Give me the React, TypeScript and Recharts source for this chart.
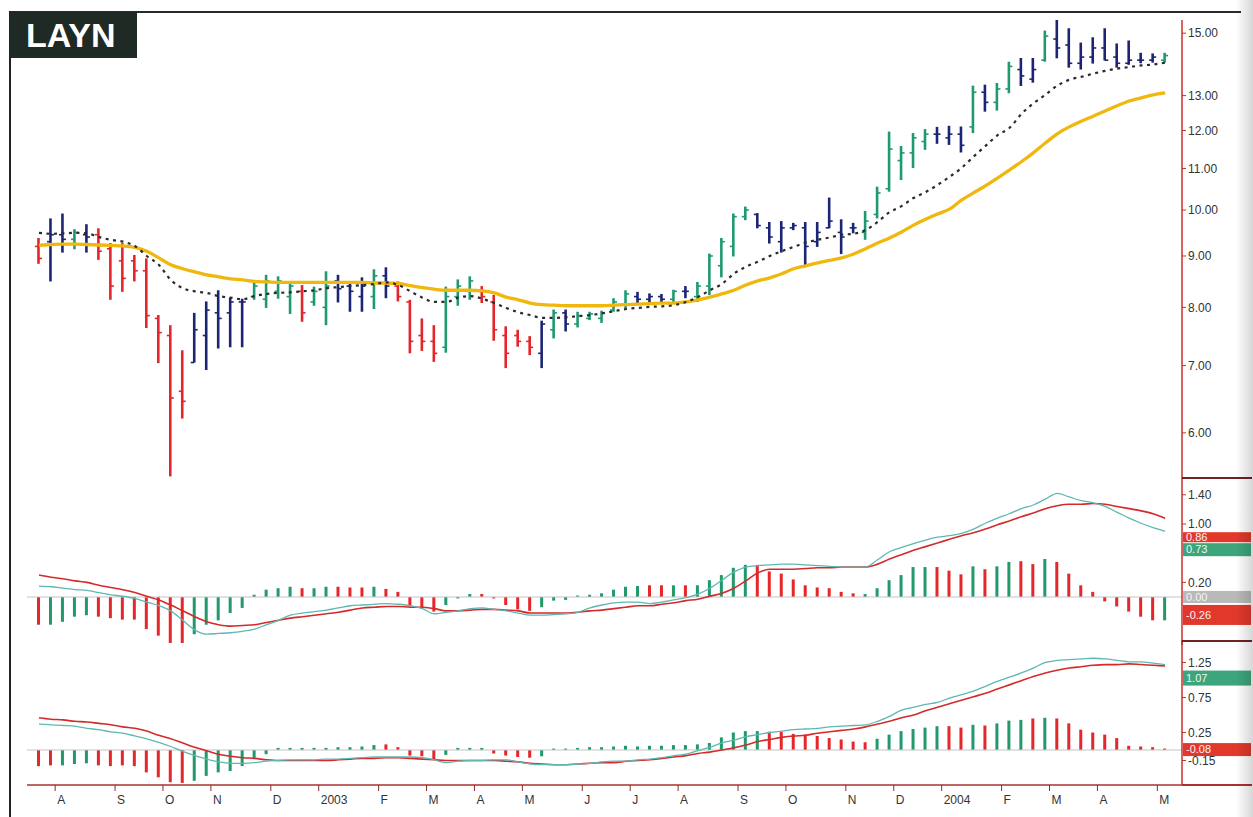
import React from 'react';
import { ComposedChart, Bar, Line, XAxis, YAxis, Cell, ReferenceLine } from 'recharts';

// ---------- data (weekly bars, Jul 2002 - May 2004) ----------
const weekIndex: number[] = Array.from({ length: 95 }, (_, k) => k);

const highs = [9.38,9.81,9.92,9.57,9.68,9.59,9.27,9.27,9.02,8.95, 7.86,7.68,7.25,7.90,8.11,8.32,8.18,8.16,8.46,8.62, 8.59,8.46,8.42,8.39,8.69,8.62,8.49,8.57,8.73,8.77, 8.49,8.14,7.80,7.68,8.39,8.53,8.59,8.40,8.23,7.66, 7.60,7.49,7.76,7.96,7.96,7.92,7.92,7.94,8.17,8.32, 8.29,8.26,8.25,8.33,8.40,8.48,9.05,9.38,9.92,10.08, 9.93,9.73,9.75,9.71,9.73,9.73,10.29,9.79,9.71,9.98, 10.55,11.97,11.58,11.93,12.04,12.10,12.13,12.11,13.30,13.33, 13.38,14.05,14.17,14.17,15.09,15.57,15.17,14.68,14.86,15.17, 14.65,14.75,14.34,14.32,14.34];
const lows = [8.84,8.49,9.07,9.14,9.07,8.92,8.14,8.29,8.49,7.63, 7.04,5.43,6.20,7.05,6.93,7.28,7.30,7.30,8.14,7.99, 8.16,7.88,7.74,8.03,7.68,8.09,7.92,7.92,7.97,8.17, 8.11,7.20,7.24,7.06,7.21,8.03,8.14,8.08,7.41,6.96, 7.31,7.17,6.96,7.45,7.57,7.64,7.77,7.72,7.92,7.98, 8.07,8.09,8.09,8.09,8.17,8.10,8.23,8.57,8.99,9.77, 9.59,9.26,9.07,9.55,8.79,9.19,9.59,9.04,9.48,9.34, 9.81,10.43,10.71,11.01,11.48,11.64,11.61,11.41,11.93,12.53, 12.56,13.07,13.29,13.39,14.05,14.16,13.86,13.80,13.99,14.09, 13.86,13.95,14.00,14.02,14.02];
const opens = [9.20,9.30,9.45,9.35,9.45,9.45,9.15,8.90,8.90,8.70, 7.80,7.50,6.60,7.05,7.50,7.90,7.90,8.10,8.20,8.15, 8.30,8.20,8.30,8.10,8.00,8.50,8.40,8.20,8.20,8.60, 8.40,8.10,7.50,7.40,7.30,8.20,8.30,8.30,8.10,7.50, 7.50,7.40,7.20,7.60,7.90,7.70,7.80,7.80,7.95,8.05, 8.20,8.15,8.20,8.15,8.30,8.20,8.40,8.80,9.20,9.85, 9.90,9.60,9.30,9.60,9.60,9.30,9.60,9.50,9.60,9.50, 9.90,10.50,11.20,11.40,11.70,11.90,11.80,11.90,12.10,13.10, 12.80,13.20,13.80,13.50,14.10,14.80,14.60,14.00,14.20,14.50, 14.20,14.00,14.10,14.10,14.10];
const closes = [8.95,9.45,9.35,9.50,9.40,9.10,8.40,8.55,8.70,7.85, 7.55,6.50,6.45,7.60,7.95,7.80,8.10,8.10,8.40,8.50, 8.50,8.40,7.90,8.30,8.40,8.35,8.30,8.40,8.60,8.40, 8.20,7.40,7.40,7.20,8.20,8.40,8.50,8.20,7.60,7.20, 7.40,7.30,7.70,7.90,7.70,7.85,7.88,7.90,8.10,8.25, 8.15,8.20,8.15,8.30,8.30,8.40,9.00,9.30,9.85,10.00, 9.65,9.40,9.60,9.65,9.20,9.50,9.75,9.40,9.60,9.75, 10.40,11.50,11.40,11.80,11.90,11.90,11.90,11.60,13.10,12.80, 13.20,13.90,13.60,13.80,14.90,14.50,14.00,14.20,14.50,14.10, 14.00,14.10,14.10,14.20,14.25];
// bar colour codes: R = red, G = green, B = blue
const barCodes = ('RBBGBRRRRR' + 'RRRBBBBBGG' + 'GGRGGBBBGB' + 'RRRRGGGRRR' + 'RRBGBGGGGG' + 'BBBGBGGGGG' + 'BBBBBBBBBG' + 'GGGGGBBBGB' + 'GGBBGBBBBB' + 'BBBBG').split('');

const ema26 = [9.22,9.24,9.25,9.25,9.24,9.23,9.22,9.21,9.18,9.10, 8.96,8.82,8.74,8.68,8.62,8.58,8.54,8.52,8.49,8.48, 8.47,8.47,8.47,8.47,8.47,8.47,8.47,8.47,8.46,8.46, 8.45,8.41,8.37,8.34,8.32,8.32,8.32,8.31,8.27,8.19, 8.14,8.08,8.05,8.04,8.03,8.03,8.03,8.03,8.04,8.05, 8.06,8.07,8.08,8.08,8.10,8.14,8.19,8.25,8.32,8.42, 8.50,8.56,8.64,8.74,8.80,8.86,8.91,8.96,9.04,9.15, 9.27,9.38,9.51,9.66,9.79,9.91,10.02,10.23,10.40,10.57, 10.76,10.96,11.17,11.40,11.66,11.91,12.10,12.26,12.40,12.55, 12.70,12.84,12.93,13.02,13.08];
const ema13 = [9.49,9.47,9.48,9.49,9.48,9.40,9.34,9.30,9.21,9.00, 8.82,8.52,8.36,8.30,8.27,8.21,8.18,8.15,8.21,8.25, 8.27,8.28,8.30,8.32,8.36,8.38,8.40,8.42,8.44,8.47, 8.42,8.30,8.18,8.10,8.10,8.18,8.21,8.16,8.08,7.99, 7.91,7.86,7.81,7.81,7.82,7.84,7.86,7.89,7.93,7.97, 7.99,8.01,8.02,8.04,8.10,8.19,8.32,8.44,8.64,8.78, 8.88,9.00,9.10,9.19,9.28,9.34,9.39,9.45,9.47,9.55, 9.73,9.95,10.09,10.28,10.42,10.59,10.79,11.01,11.30,11.58, 11.87,12.07,12.46,12.77,13.02,13.30,13.48,13.57,13.67,13.76, 13.83,13.88,13.93,13.96,14.02];

// MACD panel 1
const hist1 = [-0.38,-0.38,-0.34,-0.27,-0.25,-0.27,-0.29,-0.31,-0.31,-0.44, -0.53,-0.63,-0.63,-0.51,-0.38,-0.32,-0.22,-0.15,0.03,0.10, 0.12,0.14,0.12,0.12,0.14,0.14,0.13,0.13,0.14,0.11, 0.07,-0.13,-0.15,-0.20,-0.11,-0.02,0.04,0.04,-0.02,-0.11, -0.17,-0.19,-0.14,-0.05,-0.04,0.02,0.03,0.05,0.10,0.14, 0.15,0.16,0.16,0.16,0.16,0.16,0.23,0.30,0.40,0.44, 0.44,0.35,0.32,0.24,0.16,0.13,0.12,0.07,0.05,0.04, 0.12,0.23,0.30,0.41,0.41,0.41,0.36,0.31,0.42,0.38, 0.42,0.48,0.49,0.45,0.52,0.48,0.32,0.16,0.07,-0.06, -0.13,-0.20,-0.27,-0.32,-0.32];
const hist1Codes = ('RGGGGRRRRR' + 'RRRGGGGGGG' + 'GGRGGRRRGR' + 'RRRRGGGRRR' + 'RRGGGGGGGG' + 'GRRGRGGGGG' + 'RRRRRRRRRG' + 'GGGGGRRRGR' + 'GGRRGRRRRR' + 'RRRRG').split('');
const macd1Red = [0.30,0.27,0.25,0.22,0.20,0.16,0.13,0.10,0.06,0.01, -0.04,-0.11,-0.19,-0.27,-0.34,-0.38,-0.40,-0.39,-0.38,-0.35, -0.32,-0.29,-0.27,-0.25,-0.23,-0.21,-0.18,-0.15,-0.14,-0.13, -0.13,-0.14,-0.14,-0.16,-0.19,-0.19,-0.18,-0.17,-0.17,-0.18, -0.19,-0.22,-0.22,-0.22,-0.22,-0.21,-0.19,-0.18,-0.16,-0.14, -0.12,-0.12,-0.10,-0.08,-0.05,-0.03,0.01,0.05,0.12,0.22, 0.33,0.38,0.38,0.38,0.39,0.40,0.40,0.41,0.41,0.41, 0.45,0.52,0.58,0.64,0.69,0.74,0.79,0.84,0.88,0.93, 0.99,1.04,1.10,1.15,1.21,1.25,1.27,1.27,1.28,1.27, 1.24,1.21,1.18,1.14,1.08];
const macd1Teal = [0.15,0.14,0.12,0.10,0.09,0.06,0.03,0.01,-0.02,-0.07, -0.12,-0.19,-0.32,-0.45,-0.51,-0.50,-0.49,-0.47,-0.44,-0.38, -0.32,-0.25,-0.22,-0.20,-0.18,-0.15,-0.12,-0.11,-0.10,-0.09, -0.10,-0.12,-0.16,-0.23,-0.21,-0.19,-0.16,-0.15,-0.17,-0.19, -0.22,-0.25,-0.25,-0.24,-0.23,-0.21,-0.15,-0.11,-0.08,-0.07, -0.07,-0.09,-0.07,-0.04,-0.01,0.04,0.12,0.23,0.34,0.41, 0.43,0.44,0.45,0.45,0.44,0.43,0.42,0.41,0.41,0.41, 0.51,0.62,0.68,0.73,0.78,0.82,0.84,0.87,0.93,1.01, 1.08,1.14,1.21,1.26,1.34,1.42,1.37,1.32,1.29,1.24, 1.16,1.08,1.01,0.95,0.90];

// MACD panel 2
const hist2 = [-0.23,-0.22,-0.22,-0.20,-0.19,-0.22,-0.23,-0.22,-0.23,-0.32, -0.39,-0.46,-0.47,-0.44,-0.37,-0.32,-0.30,-0.23,-0.12,-0.06, 0.03,0.03,0.03,0.03,0.03,0.04,0.04,0.05,0.07,0.08, 0.04,-0.08,-0.09,-0.13,-0.07,0.03,0.03,0.03,-0.05,-0.08, -0.10,-0.11,-0.09,0.02,0.02,0.03,0.04,0.04,0.05,0.06, 0.05,0.06,0.06,0.07,0.07,0.08,0.10,0.18,0.25,0.27, 0.27,0.26,0.26,0.23,0.22,0.20,0.17,0.15,0.12,0.11, 0.16,0.22,0.27,0.30,0.32,0.34,0.34,0.32,0.36,0.35, 0.38,0.42,0.43,0.45,0.46,0.45,0.38,0.29,0.25,0.22, 0.17,0.06,0.05,0.04,0.02];
const hist2Codes = ('RRGGGRRRRR' + 'RRRGGGGGGG' + 'GGGGGGGGGR' + 'RRRRGGGGRR' + 'RRGGGGGGGG' + 'GGGGGGGGGG' + 'GRRRRRRRRR' + 'GGGGGGRRGR' + 'GGGRGRRRRR' + 'RRRRR').split('');
const macd2Red = [0.46,0.44,0.43,0.41,0.40,0.38,0.36,0.33,0.31,0.27, 0.21,0.16,0.10,0.04,-0.01,-0.06,-0.09,-0.11,-0.12,-0.14, -0.15,-0.15,-0.15,-0.15,-0.15,-0.14,-0.13,-0.12,-0.12,-0.11, -0.11,-0.12,-0.13,-0.14,-0.15,-0.15,-0.15,-0.15,-0.15,-0.16, -0.17,-0.19,-0.20,-0.21,-0.21,-0.20,-0.19,-0.18,-0.18,-0.16, -0.15,-0.14,-0.12,-0.10,-0.08,-0.05,-0.03,0.00,0.03,0.07, 0.12,0.15,0.18,0.20,0.21,0.24,0.26,0.28,0.30,0.33, 0.37,0.41,0.46,0.50,0.56,0.61,0.66,0.71,0.76,0.81, 0.87,0.93,0.99,1.05,1.10,1.14,1.17,1.19,1.21,1.22, 1.22,1.23,1.22,1.21,1.20];
const macd2Teal = [0.37,0.36,0.35,0.34,0.31,0.29,0.26,0.24,0.20,0.16, 0.11,0.05,-0.02,-0.08,-0.13,-0.17,-0.19,-0.19,-0.18,-0.16, -0.15,-0.14,-0.14,-0.14,-0.13,-0.13,-0.12,-0.11,-0.10,-0.10, -0.10,-0.10,-0.11,-0.14,-0.18,-0.16,-0.15,-0.15,-0.14,-0.14, -0.17,-0.20,-0.21,-0.21,-0.21,-0.20,-0.19,-0.17,-0.16,-0.16, -0.14,-0.13,-0.11,-0.08,-0.06,-0.01,0.04,0.10,0.14,0.19, 0.22,0.25,0.27,0.29,0.30,0.31,0.33,0.34,0.35,0.36, 0.41,0.48,0.57,0.61,0.65,0.68,0.74,0.79,0.84,0.91, 0.98,1.04,1.10,1.17,1.25,1.28,1.29,1.30,1.31,1.30, 1.28,1.26,1.26,1.24,1.22];

// axis ticks
const monthWeeks = [1, 6, 10, 14, 19, 23, 28, 32, 36, 40, 45, 49, 53, 58, 62, 67, 71, 75, 80, 84, 88, 93];
const monthLabels = ['A', 'S', 'O', 'N', 'D', '2003', 'F', 'M', 'A', 'M', 'J', 'J', 'A', 'S', 'O', 'N', 'D', '2004', 'F', 'M', 'A', 'M'];
const priceTicks = [6, 7, 8, 9, 10, 11, 12, 13, 15];
const macd1Ticks = [1.4, 1.0, 0.2];
const macd2Ticks = [1.25, 0.75, 0.25, -0.15];

// ---------- styling ----------
const BAR_COLORS: Record<string, string> = { R: '#e4252b', G: '#1f9a70', B: '#1c2474' };
const HIST_COLORS: Record<string, string> = { R: '#e5262a', G: '#22996b' };
const AXIS_RED = '#c8302c';
const FONT = '"Liberation Sans", Arial, sans-serif';
const X_DOMAIN: [number, number] = [-1, 95.41];
const W = 1253;
const MARGIN_LEFT = 27;
const AXIS_W = 71;

const rows = weekIndex.map((w, k) => ({
  i: w,
  open: opens[k],
  high: highs[k],
  low: lows[k],
  close: closes[k],
  color: BAR_COLORS[barCodes[k]],
  ema13: ema13[k],
  ema26: ema26[k],
  h1: hist1[k],
  h1c: HIST_COLORS[hist1Codes[k]],
  m1r: macd1Red[k],
  m1t: macd1Teal[k],
  h2: hist2[k],
  h2c: HIST_COLORS[hist2Codes[k]],
  m2r: macd2Red[k],
  m2t: macd2Teal[k],
}));

const OhlcShape = (props: any) => {
  const { x, y, width, height, payload } = props;
  if (x == null || y == null || !payload) return null;
  const cx = x + width / 2;
  const lh = Math.log(payload.high);
  const ll = Math.log(payload.low);
  const span = lh - ll || 1;
  const yo = y + (height * (lh - Math.log(payload.open))) / span;
  const yc = y + (height * (lh - Math.log(payload.close))) / span;
  const c = payload.color;
  return (
    <g>
      <line x1={cx} x2={cx} y1={y} y2={y + height} stroke={c} strokeWidth={2.6} />
      <line x1={cx - 3.5} x2={cx} y1={yo} y2={yo} stroke={c} strokeWidth={1.6} />
      <line x1={cx} x2={cx + 3.5} y1={yc} y2={yc} stroke={c} strokeWidth={1.6} />
    </g>
  );
};

const tickStyle = { fontSize: 12, fill: '#333', fontFamily: FONT };

const MonthTick = (props: any) => {
  const { x, y, index } = props;
  const label = monthLabels[index] ?? '';
  return (
    <g>
      <line x1={x} x2={x} y1={y} y2={y + 6} stroke="#8a2a2a" strokeWidth={1} />
      <text x={x + 2} y={y + 19} fontSize={12} fill="#333" fontFamily={FONT} textAnchor="start">
        {label}
      </text>
    </g>
  );
};

const ValueBox = (props: any) => {
  const { viewBox, text, fill, h = 14, dy = 0 } = props;
  if (!viewBox) return null;
  const x = viewBox.x + viewBox.width + 1;
  const y = viewBox.y + dy;
  return (
    <g>
      <rect x={x} y={y - h / 2} width={68} height={h} fill={fill} />
      <text x={x + 3} y={y + 3.8} fontSize={11} fill="#f4f4f4" fontFamily={FONT}>
        {text}
      </text>
    </g>
  );
};

const monthTickValues = monthWeeks.map((m) => m + 0.35);

export default function App() {
  return (
    <div
      style={{
        position: 'absolute',
        left: 0,
        top: 0,
        width: W,
        height: 817,
        background: '#ffffff',
        overflow: 'hidden',
        fontFamily: FONT,
      }}
    >
      {/* frame */}
      <div style={{ position: 'absolute', left: 9, top: 11, width: 1232, height: 2, background: '#2a2a2a' }} />
      <div style={{ position: 'absolute', left: 9, top: 11, width: 2, height: 806, background: '#222' }} />
      <div
        style={{
          position: 'absolute',
          left: 10,
          top: 12,
          width: 127,
          height: 46,
          background: '#1f2a25',
          color: '#ffffff',
          fontWeight: 700,
          fontSize: 34,
          lineHeight: '46px',
          paddingLeft: 16,
          boxSizing: 'border-box',
        }}
      >
        LAYN
      </div>

      {/* price panel */}
      <div style={{ position: 'absolute', left: 0, top: 0 }}>
        <ComposedChart width={W} height={480} data={rows} margin={{ top: 20, right: 0, bottom: 2, left: MARGIN_LEFT }}>
          <XAxis type="number" dataKey="i" domain={X_DOMAIN} hide allowDataOverflow />
          <YAxis
            orientation="right"
            type="number"
            scale="log"
            domain={[5.41, 15.46]}
            allowDataOverflow
            ticks={priceTicks}
            interval={0}
            tickFormatter={(v: number) => v.toFixed(2)}
            width={AXIS_W}
            tickSize={4}
            tickMargin={2}
            axisLine={{ stroke: AXIS_RED, strokeWidth: 1.5 }}
            tickLine={{ stroke: AXIS_RED }}
            tick={tickStyle}
          />
          <Line dataKey="ema26" stroke="#f0b70c" strokeWidth={3.3} dot={false} type="monotone" isAnimationActive={false} />
          <Line
            dataKey="ema13"
            stroke="#2b2b2b"
            strokeWidth={2.2}
            strokeDasharray="3 4.5"
            dot={false}
            type="monotone"
            isAnimationActive={false}
          />
          <Bar dataKey={(d: any) => [d.low, d.high]} barSize={3} shape={OhlcShape} isAnimationActive={false} />
        </ComposedChart>
      </div>

      {/* MACD panel 1 */}
      <div style={{ position: 'absolute', left: 0, top: 478 }}>
        <ComposedChart width={W} height={167} data={rows} margin={{ top: 0, right: 0, bottom: 0, left: MARGIN_LEFT }}>
          <XAxis type="number" dataKey="i" domain={X_DOMAIN} hide allowDataOverflow />
          <YAxis
            orientation="right"
            type="number"
            domain={[-0.658, 1.63]}
            allowDataOverflow
            ticks={macd1Ticks}
            interval={0}
            tickFormatter={(v: number) => v.toFixed(2)}
            width={AXIS_W}
            tickSize={4}
            tickMargin={2}
            axisLine={{ stroke: AXIS_RED, strokeWidth: 1.5 }}
            tickLine={{ stroke: AXIS_RED }}
            tick={tickStyle}
          />
          <ReferenceLine y={0} stroke="#c4c4c4" strokeWidth={1} />
          <Bar dataKey="h1" barSize={3} isAnimationActive={false}>
            {rows.map((r) => (
              <Cell key={`h1-${r.i}`} fill={r.h1c} />
            ))}
          </Bar>
          <Line dataKey="m1r" stroke="#d42a2a" strokeWidth={1.6} dot={false} type="monotone" isAnimationActive={false} />
          <Line dataKey="m1t" stroke="#5fb7b1" strokeWidth={1.3} dot={false} type="monotone" isAnimationActive={false} />
          <ReferenceLine y={0.86} stroke="none" label={<ValueBox text="0.86" fill="#e2382b" h={10} dy={3} />} />
          <ReferenceLine y={0.73} stroke="none" label={<ValueBox text="0.73" fill="#3da57b" h={13} dy={6} />} />
          <ReferenceLine y={0} stroke="none" label={<ValueBox text="0.00" fill="#b9b9b9" h={12} />} />
          <ReferenceLine y={-0.26} stroke="none" label={<ValueBox text="-0.26" fill="#e2382b" h={20} dy={-1} />} />
        </ComposedChart>
      </div>

      {/* MACD panel 2 */}
      <div style={{ position: 'absolute', left: 0, top: 640 }}>
        <ComposedChart width={W} height={177} data={rows} margin={{ top: 0, right: 0, bottom: 0, left: MARGIN_LEFT }}>
          <XAxis
            type="number"
            dataKey="i"
            domain={X_DOMAIN}
            allowDataOverflow
            ticks={monthTickValues}
            interval={0}
            height={32}
            tickSize={0}
            tickMargin={0}
            tickLine={false}
            axisLine={{ stroke: '#a83232', strokeWidth: 1.5 }}
            tick={<MonthTick />}
          />
          <YAxis
            orientation="right"
            type="number"
            domain={[-0.5, 1.571]}
            allowDataOverflow
            ticks={macd2Ticks}
            interval={0}
            tickFormatter={(v: number) => v.toFixed(2)}
            width={AXIS_W}
            tickSize={4}
            tickMargin={2}
            axisLine={{ stroke: AXIS_RED, strokeWidth: 1.5 }}
            tickLine={{ stroke: AXIS_RED }}
            tick={tickStyle}
          />
          <ReferenceLine y={0} stroke="#c4c4c4" strokeWidth={1} />
          <Bar dataKey="h2" barSize={3} isAnimationActive={false}>
            {rows.map((r) => (
              <Cell key={`h2-${r.i}`} fill={r.h2c} />
            ))}
          </Bar>
          <Line dataKey="m2r" stroke="#d42a2a" strokeWidth={1.6} dot={false} type="monotone" isAnimationActive={false} />
          <Line dataKey="m2t" stroke="#5fb7b1" strokeWidth={1.3} dot={false} type="monotone" isAnimationActive={false} />
          <ReferenceLine y={1.07} stroke="none" label={<ValueBox text="1.07" fill="#3da57b" h={15} dy={3} />} />
          <ReferenceLine y={-0.08} stroke="none" label={<ValueBox text="-0.08" fill="#e2382b" h={13} dy={-6} />} />
        </ComposedChart>
      </div>

      {/* right-side panel separators and axis extension */}
      <div style={{ position: 'absolute', left: 1182, top: 477, width: 70, height: 2, background: '#6e2424' }} />
      <div style={{ position: 'absolute', left: 1182, top: 640, width: 70, height: 2, background: '#6e2424' }} />
      <div style={{ position: 'absolute', left: 1182, top: 784, width: 70, height: 1.5, background: '#a83232' }} />
      <div
        style={{
          position: 'absolute',
          left: 1236,
          top: 0,
          width: 17,
          height: 817,
          background: 'linear-gradient(to right, rgba(0,0,0,0), rgba(0,0,0,0.16))',
        }}
      />
    </div>
  );
}
